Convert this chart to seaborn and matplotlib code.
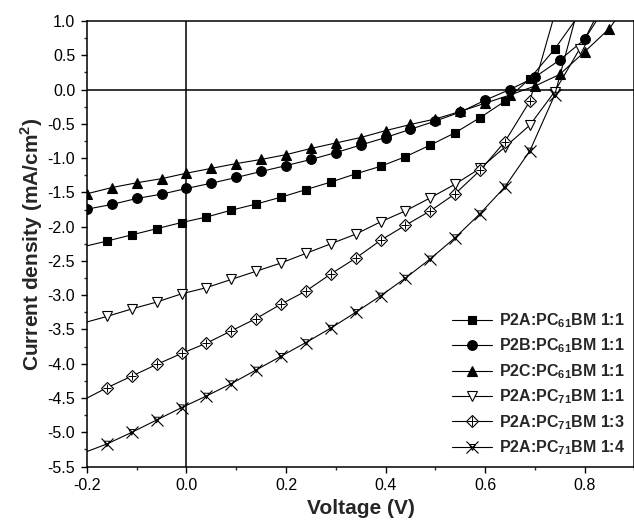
import numpy as np
import pandas as pd
import seaborn as sns
import matplotlib
matplotlib.use("Agg")
import matplotlib.pyplot as plt
from matplotlib.lines import Line2D
from matplotlib.legend_handler import HandlerTuple
from matplotlib.ticker import MultipleLocator, FormatStrFormatter

# ---------------- data ----------------
# series drawn with markers every 0.05 V; the first point (-0.2 V) of the
# "A" grid series is only a line start, last point lies above the axes.
v_a = [-0.20, -0.16, -0.11, -0.06, -0.01, 0.04, 0.09, 0.14, 0.19, 0.24, 0.29,
       0.34, 0.39, 0.44, 0.49, 0.54, 0.59, 0.64, 0.69, 0.74, 0.79]
v_b = [-0.20, -0.15, -0.10, -0.05, 0.00, 0.05, 0.10, 0.15, 0.20, 0.25, 0.30,
       0.35, 0.40, 0.45, 0.50, 0.55, 0.60, 0.65, 0.70, 0.75, 0.80, 0.85]
v_c = [-0.20, -0.15, -0.10, -0.05, 0.00, 0.05, 0.10, 0.15, 0.20, 0.25, 0.30,
       0.35, 0.40, 0.45, 0.50, 0.55, 0.60, 0.65, 0.70, 0.75, 0.80, 0.85, 0.90]
v_d = [-0.20, -0.16, -0.11, -0.06, -0.01, 0.04, 0.09, 0.14, 0.19, 0.24, 0.29,
       0.34, 0.39, 0.44, 0.49, 0.54, 0.59, 0.64, 0.69, 0.74, 0.79, 0.84]
v_e = [-0.20, -0.16, -0.11, -0.06, -0.01, 0.04, 0.09, 0.14, 0.19, 0.24, 0.29,
       0.34, 0.39, 0.44, 0.49, 0.54, 0.59, 0.64, 0.69, 0.74]
v_f = [-0.20, -0.16, -0.11, -0.06, -0.01, 0.04, 0.09, 0.14, 0.19, 0.24, 0.29,
       0.34, 0.39, 0.44, 0.49, 0.54, 0.59, 0.64, 0.69, 0.74, 0.79]

j_p2a_61_11 = [-2.28, -2.21, -2.12, -2.03, -1.94, -1.86, -1.76, -1.67, -1.57, -1.46,
               -1.35, -1.23, -1.12, -0.98, -0.81, -0.63, -0.41, -0.17, 0.16, 0.59, 1.10]
j_p2b_61_11 = [-1.745, -1.676, -1.589, -1.526, -1.443, -1.366, -1.283, -1.195, -1.11,
               -1.02, -0.92, -0.81, -0.70, -0.58, -0.46, -0.33, -0.156, 0.0, 0.18,
               0.43, 0.73, 1.30]
j_p2c_61_11 = [-1.52, -1.43, -1.36, -1.30, -1.22, -1.15, -1.08, -1.02, -0.95, -0.86,
               -0.78, -0.70, -0.60, -0.51, -0.43, -0.32, -0.20, -0.08, 0.05, 0.22,
               0.55, 0.89, 1.40]
j_p2a_71_11 = [-3.39, -3.31, -3.20, -3.10, -2.98, -2.89, -2.77, -2.65, -2.53, -2.39,
               -2.25, -2.11, -1.93, -1.77, -1.58, -1.38, -1.15, -0.84, -0.52, -0.03,
               0.59, 1.30]
j_p2a_71_13 = [-4.50, -4.35, -4.18, -4.01, -3.85, -3.70, -3.52, -3.34, -3.13, -2.94,
               -2.69, -2.46, -2.20, -1.98, -1.77, -1.52, -1.18, -0.76, -0.17, 1.10]
j_p2a_71_14 = [-5.28, -5.17, -5.00, -4.82, -4.64, -4.47, -4.29, -4.09, -3.89, -3.69,
               -3.48, -3.25, -3.01, -2.75, -2.47, -2.16, -1.81, -1.42, -0.895, -0.08,
               1.27]

labels = [r"P2A:PC$_{\mathbf{61}}$BM 1:1",
          r"P2B:PC$_{\mathbf{61}}$BM 1:1",
          r"P2C:PC$_{\mathbf{61}}$BM 1:1",
          r"P2A:PC$_{\mathbf{71}}$BM 1:1",
          r"P2A:PC$_{\mathbf{71}}$BM 1:3",
          r"P2A:PC$_{\mathbf{71}}$BM 1:4"]

x_ticks = [-0.2, 0.0, 0.2, 0.4, 0.6, 0.8]
x_label = "Voltage (V)"
y_label = r"Current density (mA/cm$^{\mathbf{2}}$)"

# ---------------- style ----------------
sns.set_style("ticks")
plt.rcParams["font.family"] = ["Liberation Sans", "DejaVu Sans"]
plt.rcParams["mathtext.fontset"] = "custom"
plt.rcParams["mathtext.rm"] = "Liberation Sans"
plt.rcParams["mathtext.bf"] = "Liberation Sans:bold"
plt.rcParams["axes.unicode_minus"] = False

fig = plt.figure(figsize=(6.34, 5.24), dpi=100)
ax = fig.add_axes([0.1372, 0.1095, 0.8633, 0.8505])

lw = 0.8
series = [
    (v_a, j_p2a_61_11, dict(marker="s", markersize=6.0, markerfacecolor="k"), 1, None),
    (v_b, j_p2b_61_11, dict(marker="o", markersize=7.0, markerfacecolor="k"), 0, None),
    (v_c, j_p2c_61_11, dict(marker="^", markersize=7.0, markerfacecolor="k"), 0, None),
    (v_d, j_p2a_71_11, dict(marker="v", markersize=7.5, markerfacecolor="white"), 1, None),
    (v_e, j_p2a_71_13, dict(marker="D", markersize=6.0, markerfacecolor="white"), 1, "+"),
    (v_f, j_p2a_71_14, dict(marker="x", markersize=8.0, markerfacecolor="none"), 1, "v"),
]

handles = []
for (vx, jy, mk, start, overlay), lab in zip(series, labels):
    sns.lineplot(x=vx, y=jy, ax=ax, color="k", linewidth=lw, sort=False,
                 markeredgecolor="k", markeredgewidth=0.8,
                 markevery=slice(start, None), **mk)
    h_main = Line2D([], [], color="k", linewidth=lw, markeredgecolor="k",
                    markeredgewidth=0.8, **mk)
    if overlay is not None:
        if overlay == "+":
            s, ms2, fc = 40, 6.5, "k"
        else:
            s, ms2, fc = 16, 4.0, "none"
        sns.scatterplot(x=vx[start:], y=jy[start:], ax=ax, marker=overlay, s=s,
                        color="k", facecolors=fc, edgecolor="k", linewidth=0.7,
                        zorder=3)
        h_ov = Line2D([], [], linestyle="none", marker=overlay, markersize=ms2,
                      markeredgecolor="k", markerfacecolor=fc, markeredgewidth=0.7)
        handles.append((h_main, h_ov))
    else:
        handles.append(h_main)

ax.axhline(0, color="k", linewidth=1.1, zorder=1)
ax.axvline(0, color="k", linewidth=1.1, zorder=1)

ax.set_xlim(-0.2, 0.9)
ax.set_ylim(-5.5, 1.0)
ax.set_xticks(x_ticks)
ax.xaxis.set_minor_locator(MultipleLocator(0.1))
ax.yaxis.set_major_locator(MultipleLocator(0.5))
ax.yaxis.set_minor_locator(MultipleLocator(0.25))
ax.xaxis.set_major_formatter(FormatStrFormatter("%.1f"))
ax.yaxis.set_major_formatter(FormatStrFormatter("%.1f"))
ax.tick_params(axis="both", which="major", direction="out", length=4.5,
               width=1.0, labelsize=11.5, colors="k", pad=4)
ax.tick_params(axis="both", which="minor", direction="out", length=2.5, width=1.0)
for sp in ax.spines.values():
    sp.set_linewidth(1.1)
    sp.set_color("k")

ax.set_xlabel(x_label, fontsize=15, fontweight="bold", labelpad=4)
ax.set_ylabel(y_label, fontsize=15, fontweight="bold", labelpad=2)

leg = ax.legend(handles, labels, loc="lower right", bbox_to_anchor=(1.0, 0.0),
                frameon=False,
                prop={"weight": "bold", "size": 11.5},
                handlelength=2.5, handletextpad=0.4, labelspacing=0.42,
                borderaxespad=0.2,
                handler_map={tuple: HandlerTuple(ndivide=1)})

fig.savefig("out.png", dpi=100)
